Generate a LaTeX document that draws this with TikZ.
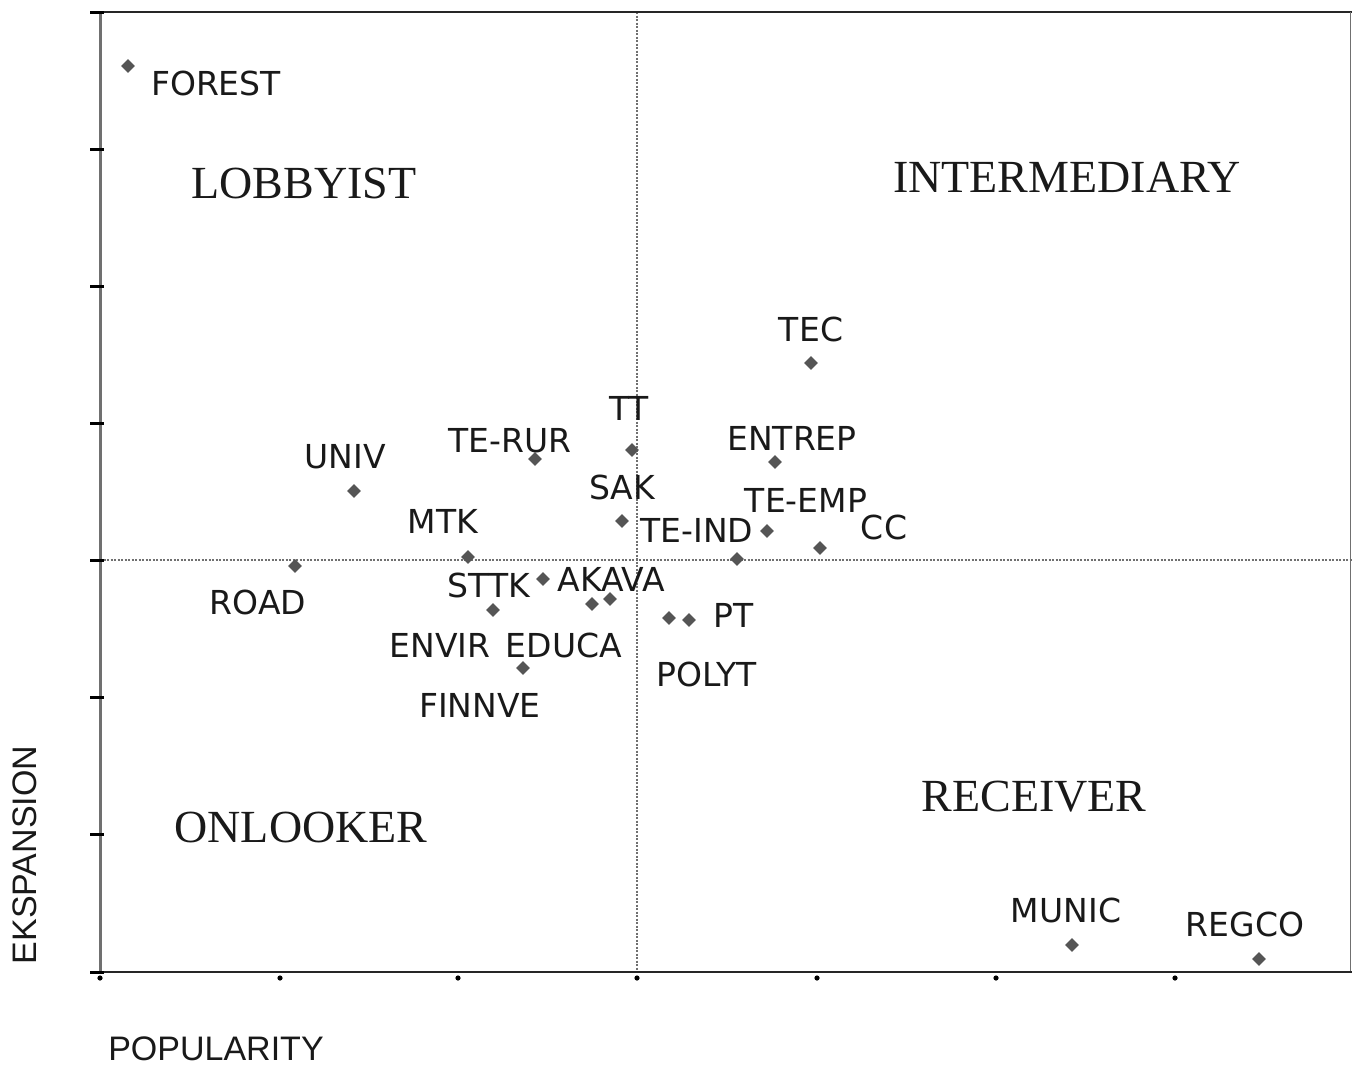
\documentclass[tikz,border=0pt]{standalone}
\usepackage{fontspec}
\setmainfont{Liberation Serif}
\newfontfamily\lblfont{DejaVu Sans}
\newfontfamily\axfont{Liberation Sans}
\usetikzlibrary{shapes.geometric}
\definecolor{ptgray}{HTML}{555555}
\definecolor{axgray}{HTML}{707070}
\tikzset{
  pt/.style={diamond,fill=ptgray,draw=none,inner sep=0pt,minimum size=14pt},
  lbl/.style={inner sep=0pt,font=\lblfont\fontsize{33}{38}\selectfont,text=black!90},
  quad/.style={inner sep=0pt,font=\fontsize{46}{50}\selectfont,text=black!90},
  axlbl/.style={inner sep=0pt,font=\axfont\fontsize{34}{40}\selectfont,text=black!90},
  guide/.style={draw=axgray,line width=1.4pt,dash pattern=on 2pt off 1.5pt},
  tickmark/.style={draw=black,line width=3pt}
}
\begin{document}
\begin{tikzpicture}[x=1pt,y=-1pt]
\useasboundingbox (0,0) rectangle (1352,1068);
\fill[white] (0,0) rectangle (1352,1068);
% guides
\draw[guide] (637,12) -- (637,972);
\draw[guide] (100,560) -- (1352,560);
% frame
\draw[black!85,line width=2pt] (100,12) -- (1352,12);
\draw[axgray,line width=1pt] (1350,12) -- (1350,972);
\draw[axgray,line width=3pt] (100,12) -- (100,972);
\draw[black!85,line width=2.2pt] (100,972) -- (1352,972);
% left ticks
\foreach \y in {12,149,286,423,560,697,834,972}
  \draw[tickmark] (90,\y) -- (104,\y);
% bottom ticks
\foreach \x in {100,280,458,637,817,996,1175}
  \fill[black] (\x,978) circle (2.6pt);
% data points
\node[pt] (pforest) at (128,66) {};
\node[pt] (ptec) at (811,363) {};
\node[pt] (ptt) at (632,450) {};
\node[pt] (pterur) at (535,459) {};
\node[pt] (pentrep) at (775,462) {};
\node[pt] (puniv) at (354,491) {};
\node[pt] (psak) at (622,521) {};
\node[pt] (ptemp) at (767,531) {};
\node[pt] (pcc) at (820,548) {};
\node[pt] (pmtk) at (468,557) {};
\node[pt] (ptind) at (737,559) {};
\node[pt] (proad) at (295,566) {};
\node[pt] (psttk) at (543,579) {};
\node[pt] (pak1) at (592,604) {};
\node[pt] (pak2) at (610,599) {};
\node[pt] (penvir) at (493,610) {};
\node[pt] (ppt1) at (669,618) {};
\node[pt] (ppt2) at (689,620) {};
\node[pt] (pfinn) at (523,668) {};
\node[pt] (pmunic) at (1072,945) {};
\node[pt] (pregco) at (1259,959) {};
% point labels
\node[lbl] (lforest) at (216,83) {FOREST};
\node[lbl] (ltec) at (811,329) {TEC};
\node[lbl] (ltt) at (629,408) {TT};
\node[lbl] (lterur) at (510,441) {TE-RUR};
\node[lbl] (lentrep) at (792,438) {ENTREP};
\node[lbl] (luniv) at (345,457) {UNIV};
\node[lbl] (lsak) at (622,487) {SAK};
\node[lbl] (ltemp) at (806,500) {TE-EMP};
\node[lbl] (lcc) at (884,527) {CC};
\node[lbl] (lmtk) at (443,521) {MTK};
\node[lbl] (ltind) at (697,530) {TE-IND};
\node[lbl] (lroad) at (258,602) {ROAD};
\node[lbl] (lsttk) at (489,585) {STTK};
\node[lbl] (lakava) at (611,579) {AKAVA};
\node[lbl] (lpt) at (734,615) {PT};
\node[lbl] (lenvir) at (440,645) {ENVIR};
\node[lbl] (leduca) at (564,645) {EDUCA};
\node[lbl] (lpolyt) at (707,674) {POLYT};
\node[lbl] (lfinnve) at (480,705) {FINNVE};
\node[lbl] (lmunic) at (1066,910) {MUNIC};
\node[lbl] (lregco) at (1245,924) {REGCO};
% quadrant labels
\node[quad] (qlob) at (304,183) {LOBBYIST};
\node[quad] (qint) at (1067,177) {INTERMEDIARY};
\node[quad] (qrec) at (1034,797) {RECEIVER};
\node[quad] (qonl) at (301,827) {ONLOOKER};
% axis labels
\node[axlbl] (xlab) at (216,1049) {POPULARITY};
\node[axlbl,rotate=90] (ylab) at (25,855) {EKSPANSION};
\end{tikzpicture}
\end{document}
